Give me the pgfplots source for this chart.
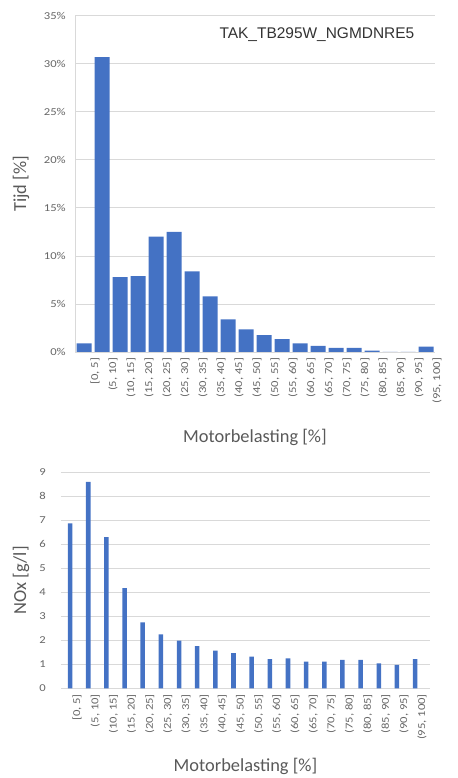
\documentclass[border=0pt]{standalone}
\usepackage{pgfplots}
\pgfplotsset{compat=1.18}
\usepackage{pgfplotstable}
\usepackage{fontspec}
\setmainfont{Carlito}
\newfontfamily\tickfont{Carlito}[FakeStretch=1.2]
\newfontfamily\titlefont{Liberation Sans}
\definecolor{barblue}{HTML}{4472C4}
\definecolor{gridgray}{HTML}{D9D9D9}
\definecolor{txtgray}{HTML}{595959}
\definecolor{ticktxt}{HTML}{666666}

\pgfplotstableread{
x y
0 0.9
1 30.7
2 7.8
3 7.9
4 12.0
5 12.5
6 8.4
7 5.8
8 3.4
9 2.35
10 1.75
11 1.35
12 0.9
13 0.65
14 0.42
15 0.42
16 0.15
17 0
18 0
19 0.55
}\tijd

\pgfplotstableread{
x y
0 6.87
1 8.6
2 6.3
3 4.17
4 2.75
5 2.25
6 1.99
7 1.76
8 1.57
9 1.46
10 1.32
11 1.21
12 1.25
13 1.11
14 1.11
15 1.18
16 1.18
17 1.04
18 0.97
19 1.21
}\nox

\pgfplotsset{
  common/.style={
    scale only axis,
    ybar,
    xtick=data,
    xticklabels={{[0, 5]},{(5, 10]},{(10, 15]},{(15, 20]},{(20, 25]},{(25, 30]},{(30, 35]},{(35, 40]},{(40, 45]},{(45, 50]},{(50, 55]},{(55, 60]},{(60, 65]},{(65, 70]},{(70, 75]},{(75, 80]},{(80, 85]},{(85, 90]},{(90, 95]},{(95, 100]}},
    xtick style={draw=none},
    ytick style={draw=none},
    ymajorgrids,
    grid style={gridgray, line width=0.6pt},
    axis x line*=bottom,
    axis y line*=left,
    x axis line style={gridgray, line width=0.6pt, -},
    ticklabel style={font=\tickfont\fontsize{7.9}{9}\selectfont, text=ticktxt, inner sep=0pt},
    label style={font=\fontsize{13.8}{15}\selectfont, text=txtgray},
  }
}

\begin{document}
\begin{tikzpicture}
\path[use as bounding box] (0pt,0pt) rectangle (342.75pt,583.5pt);
% top chart
\begin{axis}[
  common,
  at={(56.25pt,319.5pt)}, anchor=south west,
  width=270pt, height=252.2pt,
  xmin=-0.5, xmax=19.5,
  ymin=0, ymax=35,
  ytick={0,5,10,15,20,25,30,35},
  yticklabels={0\%,5\%,10\%,15\%,20\%,25\%,30\%,35\%},
  yticklabel style={anchor=east, xshift=-6.75pt},
  xticklabel style={rotate=90, anchor=east, yshift=-8.25pt},
  y axis line style={gridgray, line width=0.6pt, -},
  bar width=11.25pt,
  xlabel={Motorbelasting [\%]},
  xlabel style={at={(axis description cs:0.5,0)}, anchor=center, yshift=-63.75pt},
  ylabel={Tijd [\%]},
  ylabel style={at={(axis description cs:-0.15,0.5)}, anchor=center},
]
\addplot[fill=barblue, draw=none] table[x=x,y=y] {\tijd};
\node[font=\titlefont\fontsize{11.6}{13}\selectfont, text=black!80, anchor=center] at (rel axis cs:0.672,0.943) {TAK\_TB295W\_NGMDNRE5};
\end{axis}
% bottom chart
\begin{axis}[
  common,
  at={(45.75pt,67.3pt)}, anchor=south west,
  width=276.75pt, height=162pt,
  xmin=-0.5, xmax=19.82,
  ymin=0, ymax=9,
  ytick={0,1,2,3,4,5,6,7,8,9},
  yticklabels={0,1,2,3,4,5,6,7,8,9},
  yticklabel style={anchor=east, xshift=-11.25pt},
  xticklabel style={rotate=90, anchor=east, yshift=-5.25pt},
  y axis line style={draw=none},
  bar width=3.4pt,
  xlabel={Motorbelasting [\%]},
  xlabel style={at={(axis description cs:0.5,0)}, anchor=center, yshift=-58.5pt},
  ylabel={NOx [g/l]},
  ylabel style={at={(axis description cs:-0.1084,0.5)}, anchor=center},
]
\addplot[fill=barblue, draw=none] table[x=x,y=y] {\nox};
\end{axis}
\end{tikzpicture}
\end{document}
